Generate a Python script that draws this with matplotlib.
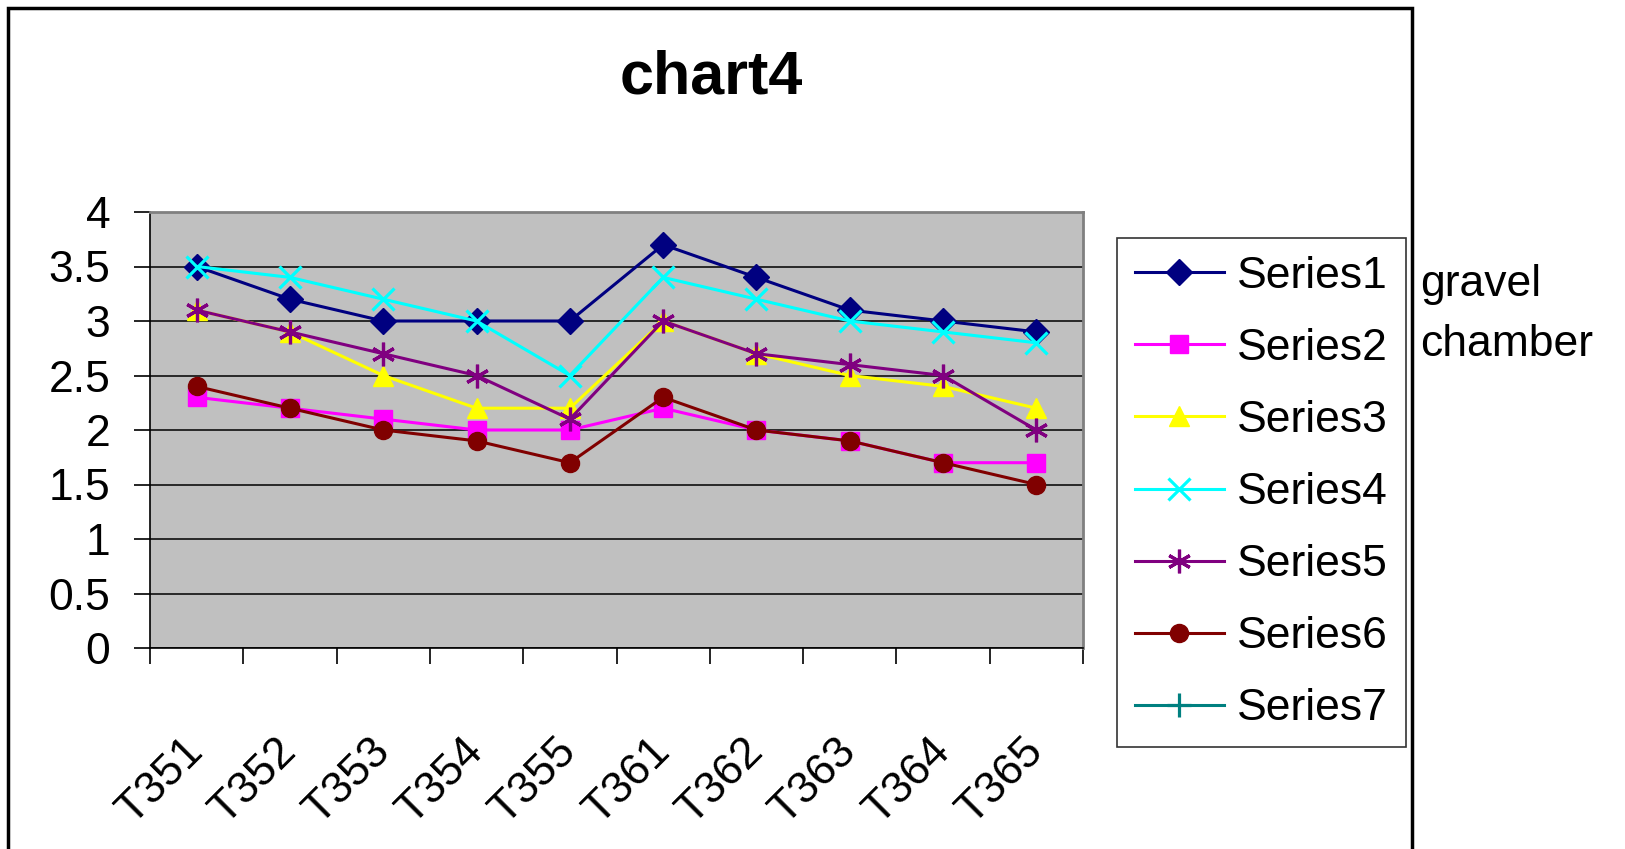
import matplotlib.pyplot as plt
from matplotlib.patches import Rectangle

categories = ['T351', 'T352', 'T353', 'T354', 'T355', 'T361', 'T362', 'T363', 'T364', 'T365']

series1 = [3.5, 3.2, 3.0, 3.0, 3.0, 3.7, 3.4, 3.1, 3.0, 2.9]
series2 = [2.3, 2.2, 2.1, 2.0, 2.0, 2.2, 2.0, 1.9, 1.7, 1.7]
series3 = [3.1, 2.9, 2.5, 2.2, 2.2, 3.0, 2.7, 2.5, 2.4, 2.2]
series4 = [3.5, 3.4, 3.2, 3.0, 2.5, 3.4, 3.2, 3.0, 2.9, 2.8]
series5 = [3.1, 2.9, 2.7, 2.5, 2.1, 3.0, 2.7, 2.6, 2.5, 2.0]
series6 = [2.4, 2.2, 2.0, 1.9, 1.7, 2.3, 2.0, 1.9, 1.7, 1.5]
series7 = []  # empty series, legend only

names = ['Series1', 'Series2', 'Series3', 'Series4', 'Series5', 'Series6', 'Series7']
colors = ['#000080', '#FF00FF', '#FFFF00', '#00FFFF', '#800080', '#800000', '#008080']
markers = ['D', 's', '^', 'x', (6, 2, 0), 'o', '+']
sizes = [13, 13, 15, 16, 17, 13, 17]

plt.rcParams['font.family'] = ['Liberation Sans', 'DejaVu Sans']

fig = plt.figure(figsize=(16.25, 8.49), dpi=100)
ax = fig.add_axes([150 / 1625, 1 - 648 / 849, 933 / 1625, 436 / 849])
ax.set_facecolor('#C0C0C0')

all_series = [series1, series2, series3, series4, series5, series6, series7]
for vals, name, c, m, s in zip(all_series, names, colors, markers, sizes):
    mew = 2.3 if m in ('x', '+') or isinstance(m, tuple) else 1
    ax.plot(range(len(vals)), vals, color=c, marker=m, markersize=s, lw=2.2,
            markeredgewidth=mew, markeredgecolor=c, label=name, zorder=3)

ax.set_xlim(-0.5, len(categories) - 0.5)
ax.set_ylim(0, 4)
ax.set_yticks([0, 0.5, 1, 1.5, 2, 2.5, 3, 3.5, 4])
ax.set_yticklabels(['0', '0.5', '1', '1.5', '2', '2.5', '3', '3.5', '4'], fontsize=32)
ax.yaxis.grid(True, color='black', lw=1.1)
ax.set_axisbelow(True)

# category axis: ticks between categories, labels centred
ax.set_xticks([i - 0.5 for i in range(len(categories) + 1)])
ax.set_xticklabels([])
ax.set_xticks(range(len(categories)), minor=True)
ax.set_xticklabels(categories, minor=True, rotation=45, ha='right', va='center',
                   rotation_mode='anchor', fontsize=32)
ax.tick_params(axis='x', which='minor', length=0, pad=70)
ax.tick_params(axis='both', which='major', direction='out', length=11.5, width=1.2)
ax.tick_params(axis='y', pad=17)

for sp in ('top', 'right'):
    ax.spines[sp].set_color('#808080')
    ax.spines[sp].set_linewidth(2)
for sp in ('left', 'bottom'):
    ax.spines[sp].set_color('black')
    ax.spines[sp].set_linewidth(1.2)

fig.text(711 / 1625, 1 - 93 / 849, 'chart4', ha='center', va='baseline',
         fontsize=44, fontweight='bold')

leg = fig.legend(loc='upper left', bbox_to_anchor=(1117 / 1625, 1 - 238 / 849),
                 fontsize=32, frameon=True, fancybox=False, edgecolor='black',
                 handlelength=2.0, labelspacing=0.70, borderpad=0.4,
                 handletextpad=0.3, borderaxespad=0)
leg.get_frame().set_linewidth(1.2)

fig.text(1420 / 1625, 1 - 296 / 849, 'gravel', ha='left', va='baseline', fontsize=32)
fig.text(1420 / 1625, 1 - 356 / 849, 'chamber', ha='left', va='baseline', fontsize=32)

# outer chart border
fig.patches.append(Rectangle((8 / 1625, -0.02), 1404 / 1625, 1 - 8 / 849 + 0.02,
                             transform=fig.transFigure, fill=False,
                             edgecolor='black', lw=2.5))

fig.savefig('out.png', dpi=100)
